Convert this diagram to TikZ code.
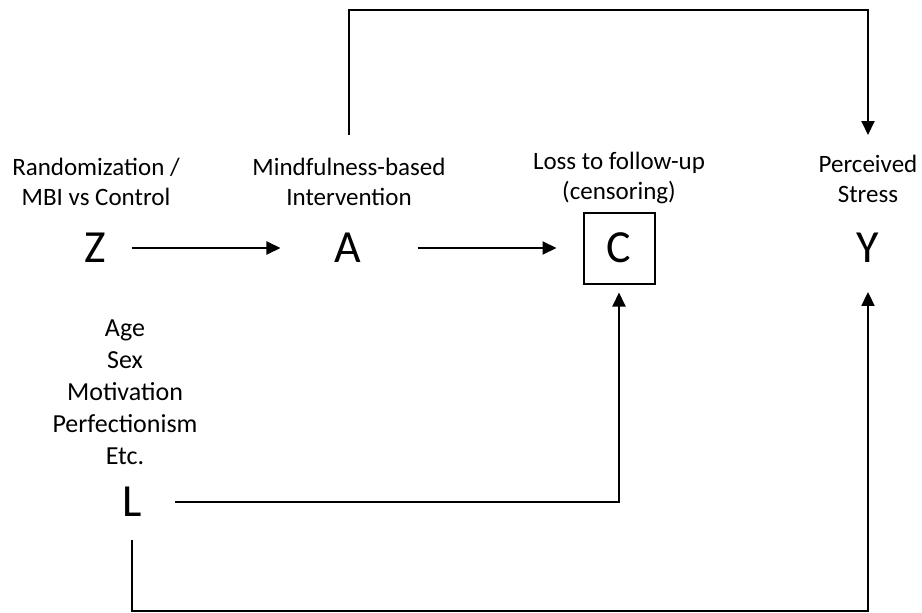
\documentclass[tikz,border=0pt]{standalone}
\usepackage{fontspec}
\setmainfont{Carlito}
\usetikzlibrary{arrows.meta}

\tikzset{
  var/.style={font=\fontsize{46}{46}\selectfont, inner sep=0pt},
  lab/.style={font=\fontsize{25}{30}\selectfont, align=center, inner sep=0pt},
  arr/.style={-{Triangle[length=14pt,width=13pt]}, line width=2pt},
}

\begin{document}
\begin{tikzpicture}[x=1pt, y=-1pt]
    \useasboundingbox (0,0) rectangle (922,613);

    % variables
    \node[var] (Z) at (95,248) {Z};
    \node[var] (A) at (348,248) {A};
    \node[var, draw, line width=2pt, minimum size=71pt] (C) at (619,248) {C};
    \node[var] (Y) at (868,248) {Y};
    \node[var] (L) at (132,502) {L};

    % labels
    \node[lab, anchor=north] (Zlab) at (96,158) {Randomization /\\MBI vs Control};
    \node[lab, anchor=north] (Alab) at (349,158) {Mindfulness-based\\Intervention};
    \node[lab, anchor=north] (Clab) at (619,152) {Loss to follow-up\\(censoring)};
    \node[lab, anchor=north] (Ylab) at (868,155) {Perceived\\Stress};
    \node[lab, anchor=north, font=\fontsize{26}{32}\selectfont] (Llab) at (125,320)
        {Age\\Sex\\Motivation\\Perfectionism\\Etc.};

    \coordinate (top) at (0,10);
    \coordinate (bot) at (0,611);

    % arrows
    \draw[arr, shorten <=26pt, shorten >=54pt] (Z.east) -- (A.west);
    \draw[arr, shorten <=56pt, shorten >=26pt] (A.east) -- (C.west);
    \draw[arr, shorten <=33pt, shorten >=8pt] (L.east) -| (C.south);
    \draw[arr, shorten <=23pt, shorten >=29pt] (L.south) -- (L.south |- bot) -| (Y.south);
    \draw[arr, shorten <=23pt, shorten >=20pt] (Alab.north) -- (Alab.north |- top) -| (Ylab.north);
  \end{tikzpicture}
\end{document}
